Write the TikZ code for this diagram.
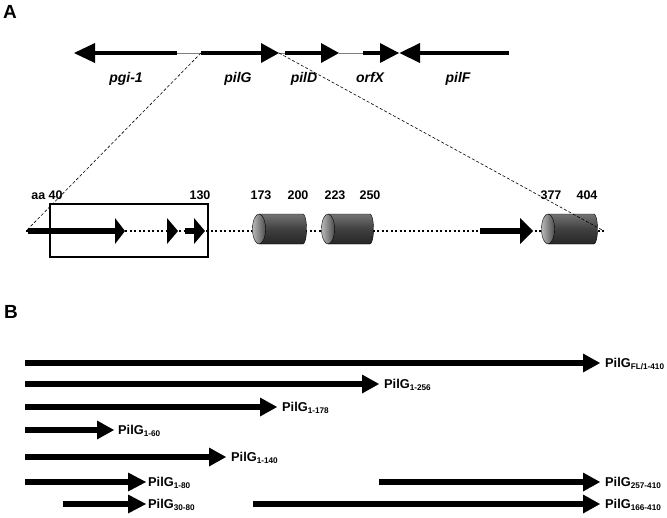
\documentclass[tikz,border=0pt]{standalone}
\usepackage{fontspec}
\setmainfont{Liberation Sans}
\tikzset{
  shaft/.style={line width=#1, line cap=butt, black},
  thinlink/.style={line width=0.8pt, gray},
  zoomline/.style={line width=0.6pt, dash pattern=on 3pt off 2pt},
  dotline/.style={line width=2.5pt, dash pattern=on 2.3pt off 2.2pt},
  genelab/.style={anchor=base, font=\fontsize{14}{16}\selectfont\bfseries\itshape},
  numlab/.style={anchor=base, font=\fontsize{12.5}{14}\selectfont\bfseries},
  conlab/.style={anchor=base west, font=\fontsize{12.8}{14}\selectfont\bfseries, inner sep=0pt},
  panellab/.style={anchor=base west, font=\fontsize{19}{21}\selectfont\bfseries, inner sep=0pt},
}
% right-pointing fat arrow: start, headbase, tip, y, half head height, shaft width
\newcommand\rfat[6]{%
  \draw[shaft=#6] (#1,#4) -- (#2,#4);
  \fill (#2,#4+#5) -- (#3,#4) -- (#2,#4-#5) -- cycle;}
% left-pointing: start(right), headbase, tip, y, half, width
\newcommand\lfat[6]{%
  \draw[shaft=#6] (#1,#4) -- (#2,#4);
  \fill (#2,#4+#5) -- (#3,#4) -- (#2,#4-#5) -- cycle;}
\newcommand\lbsub[1]{\raisebox{-2.8pt}{\fontsize{8.2}{9}\selectfont #1}}
\newcommand\cyl[3]{% left x, right x, name
  \coordinate (#3) at (#1,229);
  \shade[top color=black!55, bottom color=black!85, middle color=black!75, draw=black, line width=0.4pt]
    (#1,214) -- (#2,214) arc[start angle=-90, end angle=90, x radius=3.5, y radius=15] -- (#1,244) -- cycle;
  \shade[left color=gray!55, right color=black!70, draw=black, line width=0.4pt]
    (#1,229) ellipse[x radius=6.5, y radius=15];}
\begin{document}
\begin{tikzpicture}[x=1pt,y=-1pt]
\useasboundingbox (0,0) rectangle (667,517);
% panel labels
\node[panellab] (A) at (3,18) {A};
\node[panellab] (B) at (4,318) {B};
% ---------------- gene map ----------------
\coordinate (gl) at (201,53);
\coordinate (gr) at (279,53);
\draw[thinlink] (177,53) -- (gl);
\draw[thinlink] (gr) -- (285,53);
\draw[thinlink] (339,53) -- (363,53);
\lfat{177}{95}{74}{53}{10}{4.5pt}
\rfat{201}{261}{279}{53}{10}{4.5pt}
\rfat{285}{321}{339}{53}{10}{4.5pt}
\rfat{363}{380}{399}{53}{10}{4.5pt}
\lfat{509}{420}{399.5}{53}{10}{4.5pt}
\node[genelab] (pgi) at (126,82) {pgi-1};
\node[genelab] (pilG) at (238,82) {pilG};
\node[genelab] (pilD) at (304,82) {pilD};
\node[genelab] (orfX) at (370,82) {orfX};
\node[genelab] (pilF) at (458,82) {pilF};
% ---------------- domain map ----------------
\coordinate (dl) at (26,231);
\coordinate (dr) at (604,231);
\draw[dotline] (dl) -- (dr);
\draw[zoomline] (gl) -- (dl);
\rfat{28}{115}{125}{231}{13}{6pt}
\fill (167,218) -- (178,231) -- (167,244) -- cycle;
\rfat{185}{194}{205}{231}{13}{6pt}
\rfat{480}{520}{533}{231}{13}{6pt}
\draw[line width=2pt] (50,204) rectangle (208,257);
\cyl{259}{303}{c1}
\cyl{328}{370}{c2}
\cyl{548}{594}{c3}
\draw[zoomline] (gr) -- (dr);
\node[numlab] (n40) at (47,199) {aa 40};
\node[numlab] (n130) at (200,199) {130};
\node[numlab] (n173) at (261,199) {173};
\node[numlab] (n200) at (298,199) {200};
\node[numlab] (n223) at (335,199) {223};
\node[numlab] (n250) at (370,199) {250};
\node[numlab] (n377) at (551,199) {377};
\node[numlab] (n404) at (587,199) {404};
% ---------------- constructs ----------------
\rfat{25}{583}{600}{363}{9.5}{5.6pt}
\node[conlab] (k1) at (605,367) {PilG\lbsub{FL/1-410}};
\rfat{25}{362}{379}{384}{9.5}{5.6pt}
\node[conlab] (k2) at (384,388) {PilG\lbsub{1-256}};
\rfat{25}{260}{277}{407}{9.5}{5.6pt}
\node[conlab] (k3) at (282,411) {PilG\lbsub{1-178}};
\rfat{25}{97}{114}{430}{9.5}{5.6pt}
\node[conlab] (k4) at (118,434) {PilG\lbsub{1-60}};
\rfat{25}{209}{226}{457}{9.5}{5.6pt}
\node[conlab] (k5) at (231,461) {PilG\lbsub{1-140}};
\rfat{25}{128}{146}{482}{9.5}{5.6pt}
\node[conlab] (k6) at (148,486) {PilG\lbsub{1-80}};
\rfat{379}{583}{600}{482}{9.5}{5.6pt}
\node[conlab] (k7) at (605,486) {PilG\lbsub{257-410}};
\rfat{63}{128}{146}{504}{9.5}{5.6pt}
\node[conlab] (k8) at (148,508) {PilG\lbsub{30-80}};
\rfat{253}{583}{600}{504}{9.5}{5.6pt}
\node[conlab] (k9) at (605,508) {PilG\lbsub{166-410}};
\end{tikzpicture}
\end{document}
